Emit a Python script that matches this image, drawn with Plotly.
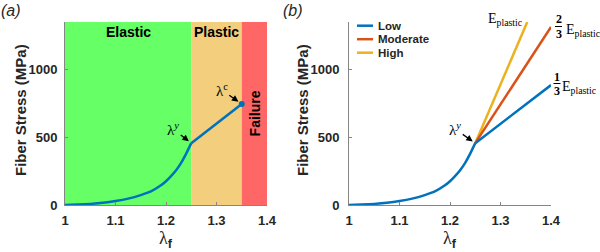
import plotly.graph_objects as go

# ---------------- data ----------------
lam_elastic = [1.0, 1.025, 1.05, 1.075, 1.10, 1.125, 1.15, 1.17, 1.19, 1.20, 1.21, 1.22, 1.23, 1.24, 1.25]
stress_elastic = [0, 3, 8, 16, 29, 47, 73, 100, 145, 175, 212, 255, 310, 378, 455]

lam_plastic = [1.25, 1.35]
stress_plastic = [455, 743]

lam_low = [1.25, 1.40]
stress_low = [455, 882]
lam_moderate = [1.25, 1.40]
stress_moderate = [455, 1309]
lam_high = [1.25, 1.353]
stress_high = [455, 1346]

region_names = ["Elastic", "Plastic", "Failure"]
region_bounds = [(1.0, 1.25), (1.25, 1.35), (1.35, 1.40)]
region_colors = ["#66FF66", "#F3CE7C", "#FF6666"]

x_ticks = [1.0, 1.1, 1.2, 1.3, 1.4]
x_ticklabels = ["1", "1.1", "1.2", "1.3", "1.4"]
y_ticks = [0, 500, 1000]
y_ticklabels = ["0", "500", "1000"]

BLUE = "#0072BD"
ORANGE = "#D95319"
YELLOW = "#EDB120"
SANS = "Arial, Liberation Sans, sans-serif"
SERIF = "Times New Roman, Liberation Serif, serif"
AX = "#858585"
TXT = "#262626"

W, H = 600, 252
def px(x):
    return x / W
def py(y):
    return 1 - y / H

fig = go.Figure()

# ---- panel (a)
fig.add_trace(go.Scatter(x=lam_elastic, y=stress_elastic, mode="lines", line=dict(color=BLUE, width=2.5, shape="spline", smoothing=0.6),
                         xaxis="x", yaxis="y", showlegend=False, hoverinfo="skip"))
fig.add_trace(go.Scatter(x=lam_plastic, y=stress_plastic, mode="lines", line=dict(color=BLUE, width=2.5),
                         xaxis="x", yaxis="y", showlegend=False, hoverinfo="skip"))
fig.add_trace(go.Scatter(x=lam_plastic[-1:], y=stress_plastic[-1:], mode="markers", marker=dict(color=BLUE, size=6),
                         xaxis="x", yaxis="y", showlegend=False, hoverinfo="skip", cliponaxis=False))

# ---- panel (b)
fig.add_trace(go.Scatter(x=lam_high, y=stress_high, mode="lines", line=dict(color=YELLOW, width=2.5),
                         xaxis="x2", yaxis="y2", showlegend=False, hoverinfo="skip", cliponaxis=False))
fig.add_trace(go.Scatter(x=lam_moderate, y=stress_moderate, mode="lines", line=dict(color=ORANGE, width=2.5),
                         xaxis="x2", yaxis="y2", showlegend=False, hoverinfo="skip", cliponaxis=False))
fig.add_trace(go.Scatter(x=lam_elastic, y=stress_elastic, mode="lines", line=dict(color=BLUE, width=2.5, shape="spline", smoothing=0.6),
                         xaxis="x2", yaxis="y2", showlegend=False, hoverinfo="skip"))
fig.add_trace(go.Scatter(x=lam_low, y=stress_low, mode="lines", line=dict(color=BLUE, width=2.5),
                         xaxis="x2", yaxis="y2", showlegend=False, hoverinfo="skip", cliponaxis=False))

shapes = []
annotations = []

def ann(x, y, text, font, xref="paper", yref="paper", xanchor="center", yanchor="middle", **kw):
    d = dict(x=x, y=y, xref=xref, yref=yref, text=text, showarrow=False, font=font,
             xanchor=xanchor, yanchor=yanchor)
    d.update(kw)
    annotations.append(d)

# region backgrounds
for (x0, x1), col in zip(region_bounds, region_colors):
    shapes.append(dict(type="rect", xref="x", yref="y domain", x0=x0, x1=x1, y0=0, y1=1,
                       fillcolor=col, line=dict(width=0), layer="below"))

# region labels
lab_font = dict(family=SANS, size=14, color="black")
ann(1.125, 1272, "<b>Elastic</b>", lab_font, xref="x", yref="y")
ann(1.299, 1272, "<b>Plastic</b>", lab_font, xref="x", yref="y")
ann(1.376, 673, "<b>Failure</b>", lab_font, xref="x", yref="y", textangle=-90)

# arrows with lambda labels
lf = dict(family=SERIF, size=15, color="black")
annotations.append(dict(x=1.25, y=455, xref="x", yref="y", text="λ<sup><i>y</i></sup>", showarrow=True,
                        ax=-18, ay=-14, arrowhead=2, arrowsize=1, arrowwidth=1.3, arrowcolor="black", standoff=3,
                        font=lf))
annotations.append(dict(x=1.35, y=743, xref="x", yref="y", text="λ<sup>c</sup>", showarrow=True,
                        ax=-20, ay=-14, arrowhead=2, arrowsize=1, arrowwidth=1.3, arrowcolor="black", standoff=4,
                        font=lf))
annotations.append(dict(x=1.25, y=455, xref="x2", yref="y2", text="λ<sup><i>y</i></sup>", showarrow=True,
                        ax=-20, ay=-14, arrowhead=2, arrowsize=1, arrowwidth=1.3, arrowcolor="black", standoff=3,
                        font=lf))

# E_plastic labels (panel b)
efont = dict(family=SERIF, size=14, color="black")
dfont = dict(family=SERIF, size=12, color="black")
ann(px(486), py(20), "E<sub>plastic</sub>", efont, xanchor="left")
# 2/3
ann(px(558.5), py(19.5), "<b>2</b>", dfont)
ann(px(558.5), py(34), "<b>3</b>", dfont)
shapes.append(dict(type="line", xref="paper", yref="paper", x0=px(555), x1=px(562), y0=py(26.5), y1=py(26.5),
                   line=dict(color="black", width=1)))
ann(px(564), py(30), "E<sub>plastic</sub>", efont, xanchor="left")
# 1/3
ann(px(557), py(76.5), "<b>1</b>", dfont)
ann(px(557), py(91), "<b>3</b>", dfont)
shapes.append(dict(type="line", xref="paper", yref="paper", x0=px(553.5), x1=px(560.5), y0=py(83.5), y1=py(83.5),
                   line=dict(color="black", width=1)))
ann(px(559.5), py(87), "E<sub>plastic</sub>", efont, xanchor="left")

# manual legend
legend_items = [("Low", BLUE), ("Moderate", ORANGE), ("High", YELLOW)]
for i, (name, col) in enumerate(legend_items):
    yy = 25.7 + i * 13.5
    shapes.append(dict(type="line", xref="paper", yref="paper", x0=px(357), x1=px(373), y0=py(yy), y1=py(yy),
                       line=dict(color=col, width=2.5)))
    ann(px(376.5), py(yy), "<b>%s</b>" % name, dict(family=SANS, size=11.5, color=TXT), xanchor="left")

# panel labels
pfont = dict(family=SANS, size=16, color=TXT)
ann(px(11), py(11), "<i>(a)</i>", pfont)
ann(px(293), py(11), "<i>(b)</i>", pfont)

# axis titles
for xc in (20, 302):
    ann(px(xc), py(110), "<b>Fiber Stress (MPa)</b>", dict(family=SANS, size=15, color=TXT), textangle=-90)
for xc in (166, 450):
    ann(px(xc), py(239), "λ<sub><span style='font-family:Arial, Liberation Sans, sans-serif;font-weight:bold'>f</span></sub>",
        dict(family=SERIF, size=18, color=TXT))

axis_common = dict(showgrid=False, zeroline=False, showline=True, linecolor=AX, linewidth=1,
                   ticks="inside", ticklen=3, tickcolor=AX, tickwidth=1, automargin=False,
                   tickfont=dict(family=SANS, size=13, color=TXT, weight="bold"))

ydom = [py(205), py(22)]
fig.update_layout(
    width=W, height=H, margin=dict(l=0, r=0, t=0, b=0, autoexpand=False),
    paper_bgcolor="white", plot_bgcolor="white",
    showlegend=False,
    xaxis=dict(domain=[px(65), px(267)], range=[1.0, 1.4], tickvals=x_ticks, ticktext=x_ticklabels,
               anchor="y", ticklabelstandoff=3, **axis_common),
    yaxis=dict(domain=ydom, range=[0, 1346], tickvals=y_ticks, ticktext=y_ticklabels,
               anchor="x", ticklabelstandoff=4, **axis_common),
    xaxis2=dict(domain=[px(349), px(551)], range=[1.0, 1.4], tickvals=x_ticks, ticktext=x_ticklabels,
                anchor="y2", ticklabelstandoff=3, **axis_common),
    yaxis2=dict(domain=ydom, range=[0, 1346], tickvals=y_ticks, ticktext=y_ticklabels,
                anchor="x2", ticklabelstandoff=6, **axis_common),
    shapes=shapes, annotations=annotations,
)

fig.write_html("out.html", config={"displayModeBar": False, "staticPlot": True},
               post_script="document.body.style.margin='0';")
